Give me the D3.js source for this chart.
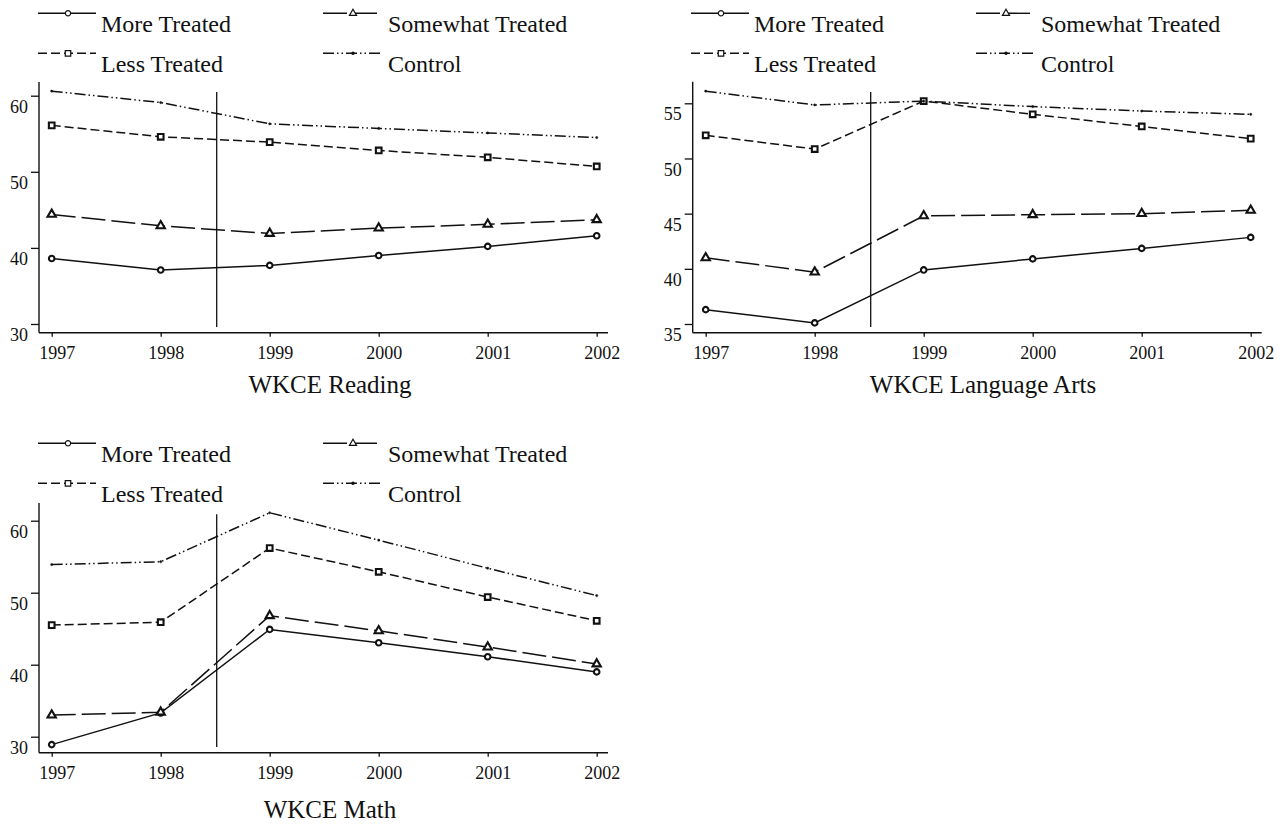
<!DOCTYPE html>
<html>
<head>
<meta charset="utf-8">
<script src="https://cdn.jsdelivr.net/npm/d3@7"></script>
<style>
  html, body { margin: 0; padding: 0; background: #fff; }
  svg { display: block; }
</style>
</head>
<body>
<svg id="chart" width="1283" height="827"></svg>
<script>
// ---------------- DATA ----------------
const years = [1997, 1998, 1999, 2000, 2001, 2002];
const seriesNames = ["More Treated", "Somewhat Treated", "Less Treated", "Control"];
const panelTitles = ["WKCE Reading", "WKCE Language Arts", "WKCE Math"];
const treatmentBreak = 1998.5;

const readingMore     = [38.6, 37.1, 37.7, 39.0, 40.2, 41.6];
const readingSomewhat = [44.4, 42.9, 41.9, 42.6, 43.1, 43.7];
const readingLess     = [56.1, 54.6, 53.9, 52.8, 51.9, 50.7];
const readingControl  = [60.6, 59.1, 56.3, 55.7, 55.1, 54.5];
const readingTicks    = [30, 40, 50, 60];

const languageMore     = [36.3, 35.1, 39.9, 40.9, 41.85, 42.85];
const languageSomewhat = [41.0, 39.7, 44.8, 44.9, 45.0, 45.3];
const languageLess     = [52.1, 50.85, 55.2, 54.0, 52.9, 51.8];
const languageControl  = [56.1, 54.85, 55.2, 54.7, 54.3, 54.0];
const languageTicks    = [35, 40, 45, 50, 55];

const mathMore     = [28.9, 33.3, 44.9, 43.05, 41.1, 39.0];
const mathSomewhat = [33.0, 33.4, 46.8, 44.7, 42.45, 40.1];
const mathLess     = [45.5, 45.9, 56.2, 52.9, 49.4, 46.1];
const mathControl  = [53.9, 54.3, 61.1, 57.3, 53.4, 49.6];
const mathTicks    = [30, 40, 50, 60];

// ---------------- STYLES / LAYOUT ----------------
const seriesStyle = [
  { dash: null,                  symbol: d3.symbolCircle,   size: 24, legendSize: 22 },
  { dash: "24,6",                symbol: d3.symbolTriangle, size: 30, legendSize: 22 },
  { dash: "9,4",                 symbol: d3.symbolSquare,   size: 32, legendSize: 30 },
  { dash: "11,3,1.5,3,1.5,3",    symbol: d3.symbolCircle,   size: 4,  legendSize: 4, filled: true }
];

const panels = [
  { title: panelTitles[0], ticks: readingTicks,
    series: [readingMore, readingSomewhat, readingLess, readingControl],
    legendDx: 0, legendDy: 0,
    yAxisX: 39, xAxisY: 332.7, axisTop: 82, axisRight: 608,
    plotTop: 92, plotBottom: 327, xFirst: 51.7, xLast: 596.7,
    yLowPx: 324, yHighPx: 95.7, titleX: 330, titleY: 393 },
  { title: panelTitles[1], ticks: languageTicks,
    series: [languageMore, languageSomewhat, languageLess, languageControl],
    legendDx: 653, legendDy: 0,
    yAxisX: 692.7, xAxisY: 332.7, axisTop: 81.7, axisRight: 1261.7,
    plotTop: 92, plotBottom: 327, xFirst: 705.7, xLast: 1250.7,
    yLowPx: 324, yHighPx: 103.3, titleX: 983, titleY: 393 },
  { title: panelTitles[2], ticks: mathTicks,
    series: [mathMore, mathSomewhat, mathLess, mathControl],
    legendDx: 0, legendDy: 430,
    yAxisX: 39, xAxisY: 752.7, axisTop: 503, axisRight: 608,
    plotTop: 514.3, plotBottom: 747, xFirst: 51.7, xLast: 596.7,
    yLowPx: 736.7, yHighPx: 520.7, titleX: 330, titleY: 818 }
];

const FONT = "'Liberation Serif', 'Times New Roman', serif";
const INK = "#111";

const svg = d3.select("#chart");

panels.forEach(p => {
  const g = svg.append("g");
  const x = d3.scaleLinear().domain([years[0], years[years.length - 1]]).range([p.xFirst, p.xLast]);
  const y = d3.scaleLinear().domain([p.ticks[0], p.ticks[p.ticks.length - 1]]).range([p.yLowPx, p.yHighPx]);

  // ---- legend ----
  const lg = g.append("g").attr("transform", `translate(${p.legendDx},${p.legendDy})`);
  seriesNames.forEach((name, i) => {
    const col = i % 2, row = Math.floor(i / 2);
    const st = seriesStyle[i];
    const x1 = 38 + col * 285, x2 = x1 + 58;
    const ly = 13.3 + row * 40;
    lg.append("line")
      .attr("x1", x1).attr("x2", x2).attr("y1", ly).attr("y2", ly)
      .attr("stroke", INK).attr("stroke-width", 1.4)
      .attr("stroke-dasharray", st.dash);
    lg.append("path")
      .attr("d", d3.symbol().type(st.symbol).size(st.legendSize)())
      .attr("transform", `translate(${x1 + 30},${ly})`)
      .attr("fill", st.filled ? INK : "#fff")
      .attr("stroke", INK).attr("stroke-width", 1.2);
    lg.append("text")
      .attr("x", 101 + col * 287).attr("y", 31.7 + row * 40.3)
      .attr("font-family", FONT).attr("font-size", 24).attr("fill", INK)
      .text(name);
  });

  // ---- axes ----
  g.append("line")
    .attr("x1", p.yAxisX).attr("x2", p.yAxisX)
    .attr("y1", p.axisTop).attr("y2", p.xAxisY)
    .attr("stroke", INK).attr("stroke-width", 1.4);
  g.append("line")
    .attr("x1", p.yAxisX).attr("x2", p.axisRight)
    .attr("y1", p.xAxisY).attr("y2", p.xAxisY)
    .attr("stroke", INK).attr("stroke-width", 1.4);

  const yAxis = g.append("g")
    .attr("transform", `translate(${p.yAxisX},0)`)
    .call(d3.axisLeft(y).tickValues(p.ticks).tickSize(8).tickPadding(3).tickFormat(d3.format("d")));
  yAxis.select(".domain").remove();
  yAxis.selectAll("line").attr("stroke", INK).attr("stroke-width", 1.3);
  yAxis.selectAll("text")
    .attr("dy", null).attr("y", 16.7)
    .attr("font-family", FONT).attr("font-size", 18).attr("fill", INK);

  const xAxis = g.append("g")
    .attr("transform", `translate(0,${p.xAxisY})`)
    .call(d3.axisBottom(x).tickValues(years).tickSize(4).tickPadding(3).tickFormat(d3.format("d")));
  xAxis.select(".domain").remove();
  xAxis.selectAll("line").attr("stroke", INK).attr("stroke-width", 1.3);
  xAxis.selectAll("text")
    .attr("dy", null).attr("y", 26.6).attr("x", 5)
    .attr("font-family", FONT).attr("font-size", 18).attr("fill", INK);

  // ---- treatment break line ----
  g.append("line")
    .attr("x1", x(treatmentBreak) + 1.5).attr("x2", x(treatmentBreak) + 1.5)
    .attr("y1", p.plotTop).attr("y2", p.plotBottom)
    .attr("stroke", INK).attr("stroke-width", 1.3);

  // ---- series ----
  const line = d3.line().x((d, i) => x(years[i])).y(d => y(d));
  p.series.forEach((vals, i) => {
    const st = seriesStyle[i];
    g.append("path")
      .datum(vals)
      .attr("d", line)
      .attr("fill", "none")
      .attr("stroke", INK).attr("stroke-width", 1.5)
      .attr("stroke-dasharray", st.dash);
    g.selectAll(null)
      .data(vals)
      .enter().append("path")
      .attr("d", d3.symbol().type(st.symbol).size(st.size)())
      .attr("transform", (d, j) => `translate(${x(years[j])},${y(d)})`)
      .attr("fill", st.filled ? INK : "#fff")
      .attr("stroke", INK).attr("stroke-width", st.filled ? 0.5 : 2.1);
  });

  // ---- title ----
  g.append("text")
    .attr("x", p.titleX).attr("y", p.titleY)
    .attr("text-anchor", "middle")
    .attr("font-family", FONT).attr("font-size", 25).attr("fill", INK)
    .text(p.title);
});
</script>
</body>
</html>
